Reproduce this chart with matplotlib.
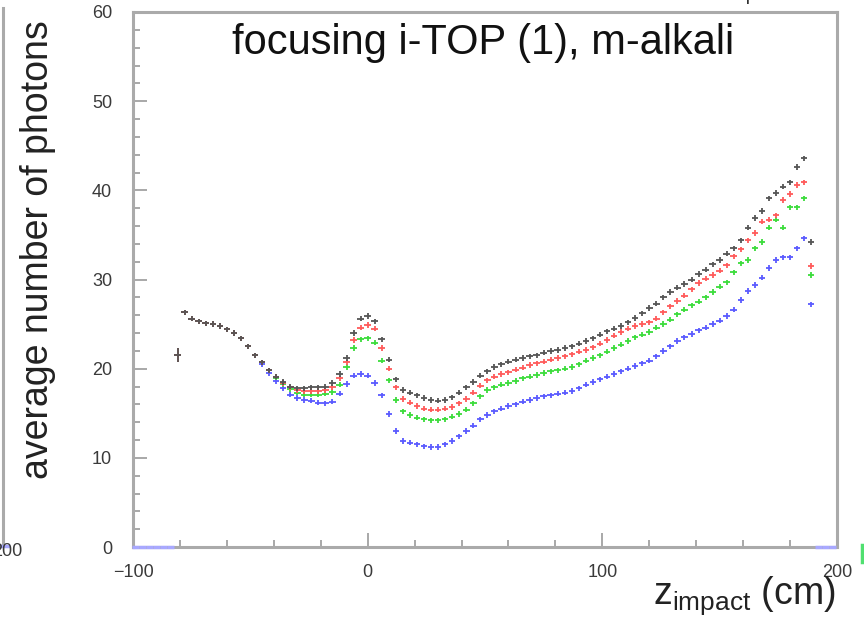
import numpy as np
import matplotlib
matplotlib.use("Agg")
import matplotlib.pyplot as plt
from matplotlib.ticker import MultipleLocator

plt.rcParams['font.family'] = ['Liberation Sans', 'DejaVu Sans']
plt.rcParams['mathtext.fontset'] = 'custom'
plt.rcParams['mathtext.rm'] = 'Liberation Sans'
plt.rcParams['mathtext.it'] = 'Liberation Sans'

# bin centres (cm), 3 cm bins
z_bins = np.arange(-99, 200, 3)

black = [0, 0, 0, 0, 0, 0,
         21.5, 26.3, 25.6, 25.3, 25.1, 25.0, 24.8, 24.4, 24.0, 23.4,
         22.5, 21.5, 20.7, 19.8, 19.1, 18.5, 18.0, 17.8, 17.8, 17.9,
         17.9, 18.0, 18.4, 19.4, 21.2, 24.0, 25.6, 25.9, 25.3, 23.3,
         21.0, 18.8, 17.6, 17.3, 17.0, 16.7, 16.5, 16.4, 16.5, 16.8,
         17.3, 17.9, 18.5, 19.2, 19.7, 20.2, 20.5, 20.8, 21.0, 21.2,
         21.4, 21.5, 21.8, 22.0, 22.1, 22.3, 22.5, 22.8, 23.1, 23.4,
         23.8, 24.2, 24.5, 24.8, 25.2, 25.7, 26.2, 26.8, 27.3, 28.0,
         28.6, 29.1, 29.5, 30.0, 30.6, 31.1, 31.7, 32.2, 32.9, 33.5,
         34.4, 35.8, 36.9, 37.7, 39.1, 39.7, 40.4, 40.9, 42.6, 43.6,
         34.2, 0, 0, 0]

red = [0, 0, 0, 0, 0, 0,
       21.5, 26.3, 25.6, 25.3, 25.1, 25.0, 24.8, 24.4, 24.0, 23.4,
       22.5, 21.5, 20.7, 19.8, 19.1, 18.4, 17.9, 17.6, 17.5, 17.5,
       17.5, 17.6, 17.9, 18.9, 20.7, 23.2, 24.6, 24.9, 24.5, 22.3,
       20.0, 17.9, 16.6, 16.2, 15.8, 15.5, 15.4, 15.4, 15.5, 15.7,
       16.1, 16.6, 17.3, 18.1, 18.7, 19.1, 19.4, 19.6, 19.9, 20.1,
       20.4, 20.6, 20.8, 21.0, 21.2, 21.4, 21.6, 21.9, 22.1, 22.4,
       22.8, 23.2, 23.7, 24.1, 24.5, 24.8, 25.0, 25.2, 25.6, 26.3,
       27.0, 27.6, 28.2, 28.9, 29.6, 30.1, 30.5, 31.0, 31.6, 32.6,
       33.4, 34.4, 35.2, 36.5, 36.7, 37.2, 38.9, 39.6, 40.6, 40.9,
       31.5, 0, 0, 0]

green = [0, 0, 0, 0, 0, 0,
         21.5, 26.3, 25.6, 25.3, 25.1, 25.0, 24.8, 24.4, 24.0, 23.4,
         22.5, 21.5, 20.7, 19.8, 19.0, 18.3, 17.7, 17.3, 17.1, 17.1,
         17.1, 17.2, 17.4, 18.2, 20.2, 22.3, 23.3, 23.4, 22.9, 20.9,
         18.7, 16.5, 15.2, 14.8, 14.5, 14.3, 14.2, 14.2, 14.3, 14.6,
         14.9, 15.4, 16.1, 16.9, 17.6, 17.9, 18.2, 18.4, 18.6, 18.9,
         19.1, 19.3, 19.5, 19.7, 19.8, 20.0, 20.2, 20.5, 20.9, 21.2,
         21.5, 21.9, 22.3, 22.7, 23.1, 23.5, 23.8, 24.1, 24.6, 25.0,
         25.5, 26.1, 26.6, 27.1, 27.5, 28.0, 28.6, 29.2, 29.7, 30.8,
         31.8, 32.2, 33.5, 34.2, 35.8, 36.7, 35.8, 38.1, 38.1, 39.1,
         30.5, 0, 0, 0]

blue = [0, 0, 0, 0, 0, 0,
        21.5, 26.3, 25.6, 25.3, 25.1, 25.0, 24.8, 24.4, 24.0, 23.4,
        22.5, 21.5, 20.5, 19.5, 18.6, 17.8, 17.1, 16.7, 16.5, 16.4,
        16.2, 16.1, 16.3, 17.2, 18.3, 19.2, 19.4, 19.2, 18.4, 17.0,
        14.9, 13.0, 11.9, 11.7, 11.5, 11.3, 11.2, 11.2, 11.5, 11.9,
        12.4, 13.0, 13.6, 14.3, 14.8, 15.2, 15.5, 15.8, 16.0, 16.3,
        16.5, 16.7, 16.9, 17.0, 17.2, 17.3, 17.5, 17.8, 18.2, 18.5,
        18.8, 19.1, 19.4, 19.7, 20.0, 20.3, 20.6, 20.9, 21.4, 22.0,
        22.5, 23.1, 23.5, 23.9, 24.3, 24.6, 25.0, 25.4, 25.9, 26.6,
        27.7, 28.7, 29.4, 30.2, 31.3, 32.2, 32.5, 32.5, 33.5, 34.6,
        27.2, 0, 0, 0]

series = [("blue", blue, "#5a5aff"), ("green", green, "#3cdc3c"),
          ("red", red, "#ff5a5a"), ("black", black, "#555555")]

title = "focusing i-TOP (1), m-alkali"
ylabel = "average number of photons"
xlabel = r"$\mathrm{z}_{\mathrm{impact}}$ (cm)"

W, H = 864, 627
fig = plt.figure(figsize=(W / 100, H / 100), dpi=100)
ax = fig.add_axes([133 / W, 1 - 547 / H, (837 - 133) / W, (547 - 12) / H])

for name, vals, col in series:
    v = np.array(vals, dtype=float)
    m = v > 0
    yerr = np.where(z_bins[m] == -81, 0.8, 0.3)
    ax.errorbar(z_bins[m], v[m], xerr=1.4, yerr=yerr, fmt='none',
                ecolor=col, elinewidth=1.3, capsize=0, zorder=3)

# empty bins drawn on the zero line
vb = np.array(blue, dtype=float)
zm = vb == 0
ax.errorbar(z_bins[zm], vb[zm], xerr=1.5, fmt='none', ecolor='#a8a8ff',
            elinewidth=2.5, capsize=0, zorder=4, clip_on=False)

ax.set_xlim(-100, 200)
ax.set_ylim(0, 60)
ax.set_xticks([-100, 0, 100, 200])
ax.set_yticks(range(0, 61, 10))
ax.xaxis.set_minor_locator(MultipleLocator(20))
ax.yaxis.set_minor_locator(MultipleLocator(2))
ax.tick_params(which='both', direction='in', color='#999999', width=1.2,
               top=False, right=False)
ax.tick_params(which='major', length=10, labelsize=13, labelcolor='#3a3a3a')
ax.tick_params(which='minor', length=5)
ax.tick_params(axis='y', pad=15)
ax.tick_params(axis='x', pad=12)
for s in ax.spines.values():
    s.set_color('#aaaaaa')
    s.set_linewidth(2.2)

fig.text(483 / W, 1 - 43 / H, title, ha='center', va='center', fontsize=30,
         family=['Liberation Sans Narrow', 'Liberation Sans'], color='#111111')
fig.text(38 / W, 1 - 250 / H, ylabel, ha='center', va='center',
         rotation=90, fontsize=27, color='#222222')
fig.text(836 / W, 1 - 604 / H, xlabel, ha='right', va='baseline',
         fontsize=27, color='#222222')

# fragments of neighbouring panels at the image edges
fig.add_artist(plt.Line2D([3 / W, 3 / W], [1 - 545 / H, 1 - 8 / H],
                          color='#aaaaaa', lw=2.2))
fig.add_artist(plt.Line2D([0, 8 / W], [1 - 546 / H, 1 - 546 / H],
                          color='#a8a8ff', lw=2.5))
fig.text(22 / W, 1 - 551 / H, "200", ha='right', va='center',
         fontsize=13, color='#3a3a3a')
fig.add_artist(plt.Line2D([862 / W, 862 / W], [1 - 562 / H, 1 - 545 / H],
                          color='#50e070', lw=2.5))
fig.text(755 / W, 1 - (-4) / H, "impact", ha='center', va='center',
         fontsize=14, color='#333333')

fig.savefig("out.png", dpi=100)
